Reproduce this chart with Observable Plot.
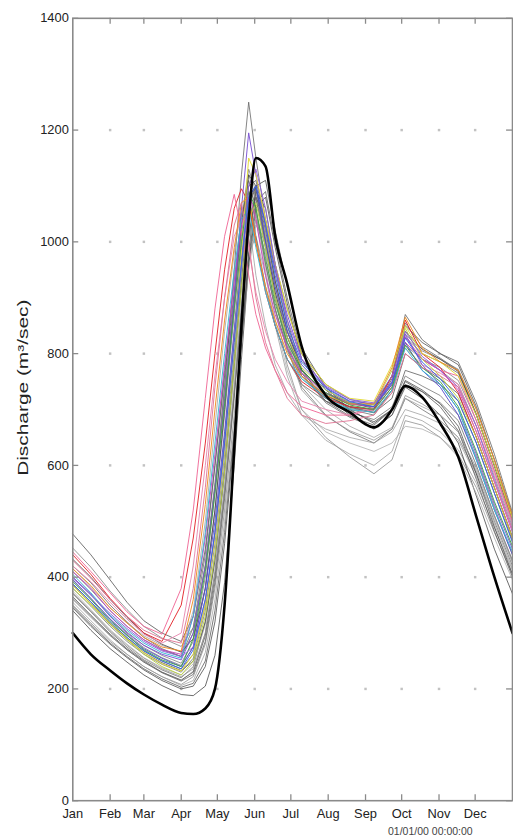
<!DOCTYPE html>
<html>
<head>
<meta charset="utf-8">
<script src="https://cdn.jsdelivr.net/npm/d3@7"></script>
<script src="https://cdn.jsdelivr.net/npm/@observablehq/plot@0.6"></script>
<style>
  html, body { margin: 0; padding: 0; background: #fff; overflow: hidden; }
  #chart { width: 513px; overflow: hidden; }
  #chart svg { display: block; }
  #caption { font-family: "Liberation Sans", Arial, sans-serif; font-size: 10.5px; color: #444; padding-left: 388px; margin-top: 1px; line-height: 12px; }
</style>
</head>
<body>
<div id="chart"></div>
<div id="caption">01/01/00 00:00:00</div>
<script>
// ---- data (day of year, discharge m³/sec) ----
const days = [0,15,31,45,59,74,90,100,110,118,126,134,140,146,152,160,168,178,190,210,230,250,265,276,290,305,320,335,350,365];
const monthStarts = [0,31,59,90,120,151,181,212,243,273,304,334];
const monthNames = ["Jan","Feb","Mar","Apr","May","Jun","Jul","Aug","Sep","Oct","Nov","Dec"];
const yTicks = [0,200,400,600,800,1000,1200,1400];
const gridLevels = [200,400,600,800,1000,1200];
const yLabel = "Discharge (m³/sec)";

// thick black trace
const observed = [300,262,233,210,190,172,157,155,165,200,350,630,850,1040,1150,1135,1010,925,813,725,695,668,700,742,722,675,615,508,400,300];

// grey ensemble traces
const g01 = [420,390,350,320,292,272,258,300,420,560,740,950,1120,1250,1150,1040,960,880,800,745,718,708,760,855,812,792,770,692,600,502];
const g02 = [477,440,395,355,322,300,285,330,450,600,760,910,1030,1110,1060,960,880,810,760,725,705,700,755,850,820,800,780,705,610,510];
const g03 = [350,318,285,262,240,222,208,222,280,380,520,690,830,960,1040,980,880,780,700,650,615,585,610,680,672,650,620,560,480,405];
const g04 = [360,328,295,270,248,230,215,232,300,410,560,730,870,980,1010,940,850,760,690,645,620,600,625,690,680,660,628,568,488,412];
const g05 = [370,338,302,275,252,234,220,240,320,440,600,780,920,1040,1080,1000,900,810,740,690,660,640,665,720,700,680,650,585,500,420];
const g06 = [340,305,272,248,225,206,190,188,205,260,390,600,790,960,1060,1080,990,890,790,725,690,665,690,740,720,690,640,545,450,370];
const g07 = [380,348,312,285,262,244,230,255,340,460,620,800,950,1070,1100,1010,920,830,760,715,695,682,705,760,742,725,690,615,525,440];
const g08 = [395,362,325,298,274,256,242,275,380,520,690,870,1010,1120,1080,990,900,820,765,725,705,695,735,820,790,770,745,670,580,490];
const g09 = [365,332,298,272,250,230,216,230,295,400,550,730,880,1010,1090,1060,960,860,770,715,688,672,700,770,760,745,715,640,550,465];
const g10 = [355,322,288,262,240,222,206,215,265,360,500,670,820,950,1030,1000,910,820,745,700,670,650,668,720,705,690,660,590,505,425];
const g11 = [410,378,340,312,288,270,258,310,440,600,770,930,1050,1090,1010,920,850,790,745,715,700,690,735,830,800,785,765,690,600,505];
const g12 = [375,342,306,280,256,238,225,245,315,430,580,760,910,1020,1040,950,860,770,700,660,640,625,640,670,665,650,615,550,470,395];
const g13 = [345,312,280,256,234,215,200,205,240,320,460,650,820,980,1100,1110,1020,920,810,740,700,675,700,752,735,710,670,585,490,405];
const g14 = [400,368,330,302,278,260,246,285,400,550,720,900,1040,1130,1090,990,900,815,760,722,705,698,740,835,805,790,772,700,610,508];
const g15 = [388,355,318,292,268,250,236,262,350,480,650,840,990,1100,1110,1030,930,840,770,728,710,705,760,870,825,800,785,712,620,515];
const g16 = [415,382,345,318,295,278,266,340,500,670,840,980,1060,1040,940,850,780,730,690,665,650,640,660,700,690,675,645,580,495,415];
const g17 = [432,400,360,328,300,280,266,290,380,520,700,890,1030,1120,1100,1000,910,830,770,730,712,702,745,840,808,790,768,690,598,500];
const g18 = [362,330,296,270,248,229,214,226,285,390,540,720,870,1010,1080,1040,950,850,765,712,686,668,690,745,732,712,680,600,510,430];
const g19 = [386,352,316,289,265,247,233,250,320,430,590,780,930,1060,1100,1020,930,840,772,726,704,694,720,800,775,755,728,650,560,472];
const g20 = [452,418,375,342,312,291,276,310,420,570,740,900,1020,1090,1050,960,880,805,755,722,702,695,730,815,790,775,752,680,590,495];
const g21 = [348,315,282,258,236,218,203,210,250,340,480,660,820,970,1070,1090,1000,900,800,735,698,678,700,750,732,705,662,575,482,400];
const g22 = [372,340,304,278,255,236,222,236,300,410,560,740,890,1010,1050,990,900,810,735,688,662,645,665,725,710,690,660,595,510,428];

// coloured ensemble traces
const cRed     = [440,405,362,330,300,285,350,470,640,800,950,1060,1095,1070,1000,910,850,790,750,720,705,700,760,860,800,775,730,650,560,470];
const cPink    = [445,410,372,338,312,298,380,520,720,880,1010,1085,1020,940,870,810,770,730,705,690,690,700,740,820,790,770,760,680,590,500];
const cPink2   = [420,392,355,325,298,282,300,420,600,760,900,1010,1040,990,910,840,790,750,715,700,690,705,745,810,780,765,745,670,585,495];
const cMagenta = [410,380,340,312,288,270,262,330,470,620,780,930,1030,1090,1040,940,870,810,765,730,710,705,750,830,790,770,735,660,570,480];
const cPurple  = [400,370,330,300,278,262,252,300,420,560,720,900,1060,1195,1120,1030,950,870,790,740,715,710,750,835,780,745,700,620,530,450];
const cViolet  = [395,362,325,296,272,255,240,275,380,500,660,840,970,1080,1100,1000,920,840,780,735,712,705,745,820,770,740,690,610,520,440];
const cYellow  = [385,352,318,290,265,245,232,262,350,470,630,820,980,1150,1120,1040,960,880,800,745,720,715,780,850,800,785,760,690,600,505];
const cLime    = [380,350,315,288,262,240,225,250,330,440,590,780,920,1040,1070,990,900,830,775,735,712,708,770,845,790,760,720,650,560,470];
const cCyan    = [405,372,332,305,282,265,255,330,480,640,800,950,1040,1060,990,910,850,790,755,720,700,695,735,810,770,745,700,610,520,445];
const cOrange  = [415,385,345,318,292,275,268,360,530,700,860,990,1070,1080,1000,920,860,800,760,725,710,710,775,865,810,785,770,700,610,510];
const cGreen   = [392,360,322,296,270,252,240,290,410,550,710,880,1000,1090,1060,970,890,820,770,730,708,700,740,815,775,750,705,625,535,455];
const cViolet2 = [398,368,335,308,285,268,258,275,360,480,640,830,960,1100,1130,1060,960,860,790,742,718,712,760,840,795,770,740,670,575,485];
const cPink3   = [430,398,360,330,305,290,282,380,560,740,900,1030,1070,1000,900,820,770,720,690,675,680,690,730,800,775,760,740,660,570,485];
const cBlue    = [388,356,320,292,268,250,236,270,360,480,640,820,960,1080,1100,1030,940,850,785,738,714,705,748,828,785,755,715,640,550,462];

const greySeries = {g01,g02,g03,g04,g05,g06,g07,g08,g09,g10,g11,g12,g13,g14,g15,g16,g17,g18,g19,g20,g21,g22};
const colourSeries = {cRed,cPink,cPink2,cMagenta,cPurple,cViolet,cYellow,cLime,cCyan,cOrange,cGreen,cViolet2,cPink3,cBlue};

// ---- styles ----
const greyStroke = ["#5e5e5e","#4a4a4a","#8a8a8a","#9a9a9a","#6a6a6a","#3e3e3e","#707070","#808080","#555","#a0a0a0","#666","#aaaaaa","#444","#777","#5a5a5a","#9c9c9c","#3a3a3a","#606060","#4c4c4c","#7a7a7a","#525252","#909090"];
const colourStroke = ["#e3262c","#f06a98","#e68ab0","#c845c0","#7b52d2","#5a4fcc","#e2da34","#b9d043","#35b9d3","#f08c22","#3fa446","#9062da","#e07896","#3565e0"];

function toRows(obj) {
  const rows = [];
  for (const [name, vals] of Object.entries(obj)) vals.forEach((q, i) => rows.push({series: name, day: days[i], q}));
  return rows;
}
const greyRows = toRows(greySeries);
const colourRows = toRows(colourSeries);
const obsRows = observed.map((q, i) => ({day: days[i], q}));
const gridDots = monthStarts.slice(1).flatMap(d => gridLevels.map(v => ({day: d, q: v})));
const monthMap = new Map(monthStarts.map((d, i) => [d, monthNames[i]]));

const W = 518, H = 832, mL = 73, mR = 1, mT = 18, mB = 24;
const innerW = W - mL - mR, innerH = H - mT - mB;

const chart = Plot.plot({
  width: W, height: H,
  marginLeft: mL, marginRight: mR, marginTop: mT, marginBottom: mB,
  x: {domain: [0, 365], axis: null},
  y: {domain: [0, 1400], axis: null},
  color: {domain: [...Object.keys(greySeries), ...Object.keys(colourSeries)], range: [...greyStroke, ...colourStroke]},
  style: {fontFamily: "'Liberation Sans', Arial, sans-serif", background: "#fff", color: "#333", overflow: "visible"},
  marks: [
    Plot.dot(gridDots, {x: "day", y: "q", symbol: "square", r: 1.4, fill: "#c2c2c2", stroke: null}),
    Plot.line(greyRows, {x: "day", y: "q", z: "series", stroke: "series", strokeWidth: 0.85, strokeOpacity: 0.9}),
    Plot.line(colourRows, {x: "day", y: "q", z: "series", stroke: "series", strokeWidth: 1, strokeOpacity: 0.95}),
    Plot.line(obsRows, {x: "day", y: "q", stroke: "#000", strokeWidth: 2.6, curve: "monotone-x"}),
    Plot.frame({stroke: "#8a8a8a", strokeWidth: 1.6}),
    Plot.tickY(yTicks, {y: d => d, insetRight: innerW - 6, stroke: "#8a8a8a", strokeWidth: 1.3}),
    Plot.tickY(yTicks, {y: d => d, insetLeft: innerW - 6, stroke: "#8a8a8a", strokeWidth: 1.3}),
    Plot.tickX(monthStarts.slice(1), {x: d => d, insetTop: innerH - 6, stroke: "#8a8a8a", strokeWidth: 1.3}),
    Plot.tickX(monthStarts.slice(1), {x: d => d, insetBottom: innerH - 6, stroke: "#8a8a8a", strokeWidth: 1.3}),
    Plot.axisY(yTicks, {tickSize: 0, tickPadding: 4, fontSize: 13, fill: "#222", tickFormat: d => String(d), label: null}),
    Plot.axisX(monthStarts, {tickSize: 0, tickPadding: 8, fontSize: 13, fill: "#222", tickFormat: d => monthMap.get(d), label: null}),
    Plot.text([yLabel], {text: d => d, frameAnchor: "left", textAnchor: "start", dx: -50, dy: 67, rotate: -90, fontSize: 15, fill: "#222"})
  ]
});
// stretch the rotated axis title along its length, as in the reference
chart.querySelectorAll('g[aria-label="text"] text').forEach(t => {
  t.setAttribute("textLength", 178);
  t.setAttribute("lengthAdjust", "spacingAndGlyphs");
});
document.getElementById("chart").appendChild(chart);
</script>
</body>
</html>
